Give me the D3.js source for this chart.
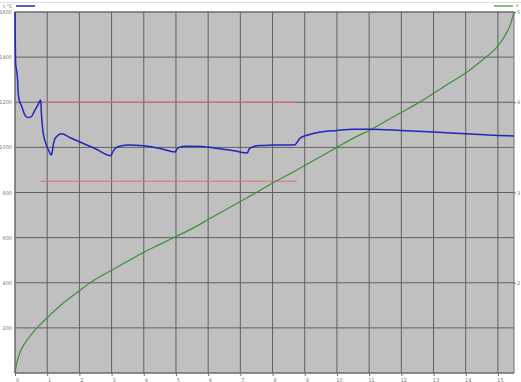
<!DOCTYPE html>
<html><head><meta charset="utf-8">
<script src="https://cdn.jsdelivr.net/npm/d3@7"></script>
<style>body{margin:0;background:#fff}svg{display:block}text{font-family:"DejaVu Sans",sans-serif}</style>
</head><body><svg id="c" width="521" height="382"></svg>
<script>
const xTicks=[0,1,2,3,4,5,6,7,8,9,10,11,12,13,14,15];
const yTicks=[0,200,400,600,800,1000,1200,1400,1600];
const yLabels=["","200","400","600","800","1000","1200","1400","1600"];
const y2Ticks=[2,3,4,5];
const tempX=[0,0.01,0.02,0.05,0.08,0.1,0.13,0.2,0.3,0.4,0.5,0.6,0.7,0.8,0.82,0.87,0.95,1.05,1.12,1.15,1.2,1.25,1.35,1.45,1.7,2,2.5,2.98,3.02,3.08,3.2,3.5,4,4.5,4.98,5.02,5.1,5.3,5.8,6.3,6.8,7.22,7.26,7.35,7.6,8,8.7,8.75,8.85,9.1,9.5,10,10.5,11,12,13,14,15,15.5];
const tempY=[1600,1450,1370,1340,1300,1240,1210,1185,1145,1132,1135,1160,1185,1210,1150,1070,1020,985,966,975,1020,1040,1055,1060,1044,1025,994,963,975,990,1003,1010,1007,995,980,990,1000,1005,1004,995,985,975,990,1000,1008,1010,1012,1020,1040,1055,1068,1075,1080,1080,1075,1068,1060,1053,1050];
const ratioX=[0,0.05,0.15,0.3,0.5,0.75,1,1.5,2,2.5,3,3.5,4,4.5,5,5.5,6,6.5,7,7.5,8,8.5,9,9.5,10,10.5,11,11.5,12,12.5,13,13.5,14,14.5,15,15.2,15.4,15.5];
const ratioY=[0,40,90,130,170,210,245,310,365,415,455,495,535,570,605,640,680,720,760,800,842,880,920,960,1000,1040,1075,1115,1155,1195,1240,1285,1330,1385,1450,1490,1550,1600];
const limitX=[0.8,8.75];
const limitHigh=[1200,1200];
const limitLow=[850,850];

const svg=d3.select("#c");
const L=15,R=514,T=12,B=373;
const x=d3.scaleLinear().domain([0,15.5]).range([L,R]);
const y=d3.scaleLinear().domain([0,1600]).range([B,T]);
const y2=d3.scaleLinear().domain([1,5]).range([B,T]);

svg.append("line").attr("x1",0).attr("x2",521).attr("y1",2.5).attr("y2",2.5).attr("stroke","#e0e0e0");
svg.append("rect").attr("x",L).attr("y",T).attr("width",R-L).attr("height",B-T).attr("fill","#c0c0c0");
const g=svg.append("g");
g.selectAll(".vg").data(xTicks).join("line").attr("x1",d=>x(d)).attr("x2",d=>x(d)).attr("y1",T).attr("y2",B).attr("stroke","#606060").attr("stroke-width",1);
g.selectAll(".hg").data(yTicks).join("line").attr("x1",L).attr("x2",R).attr("y1",d=>y(d)).attr("y2",d=>y(d)).attr("stroke","#606060").attr("stroke-width",1);
svg.append("rect").attr("x",L).attr("y",T).attr("width",R-L).attr("height",B-T).attr("fill","none").attr("stroke","#707070");

const xa=svg.append("g").attr("transform",`translate(0,${B})`).call(d3.axisBottom(x).tickValues(xTicks).tickSize(3).tickFormat(d3.format("d")));
xa.select(".domain").remove();
xa.selectAll("line").attr("stroke","#707070");
xa.selectAll("text").attr("font-size",5).attr("fill","#777").attr("dy","0.6em").attr("dx",2);
const ya=svg.append("g").attr("transform",`translate(${L},0)`).call(d3.axisLeft(y).tickValues(yTicks).tickSize(0).tickFormat((d,i)=>yLabels[i]));
ya.select(".domain").remove();
ya.selectAll("text").attr("font-size",5).attr("fill","#777").attr("x",-3);
const y2a=svg.append("g").attr("transform",`translate(${R},0)`).call(d3.axisRight(y2).tickValues(y2Ticks).tickSize(2).tickFormat(d3.format("d")));
y2a.select(".domain").remove();
y2a.selectAll("line").attr("stroke","#707070");
y2a.selectAll("text").attr("font-size",5).attr("fill","#777").attr("x",3);

const line=d3.line().x(d=>x(d[0])).y(d=>y(d[1]));
const red="#e07070";
svg.append("path").attr("d",line(d3.zip(limitX,limitHigh))).attr("stroke",red).attr("fill","none").attr("stroke-width",1);
svg.append("path").attr("d",line(d3.zip(limitX,limitLow))).attr("stroke",red).attr("fill","none").attr("stroke-width",1);
svg.append("path").attr("d",d3.line().x(d=>x(d[0])).y(d=>y(d[1])).curve(d3.curveMonotoneX)(d3.zip(ratioX,ratioY))).attr("stroke","#3a8f3a").attr("fill","none").attr("stroke-width",1.2);
svg.append("path").attr("d",d3.line().x(d=>x(d[0])).y(d=>y(d[1])).curve(d3.curveMonotoneX)(d3.zip(tempX,tempY))).attr("stroke","#2323c0").attr("fill","none").attr("stroke-width",1.5);

svg.append("text").attr("x",3).attr("y",8).attr("font-size",5).attr("fill","#777").text("t,°C");
svg.append("line").attr("x1",16).attr("x2",35).attr("y1",6).attr("y2",6).attr("stroke","#2323c0").attr("stroke-width",1.5);
svg.append("line").attr("x1",494).attr("x2",513).attr("y1",6).attr("y2",6).attr("stroke","#3a8f3a").attr("stroke-width",1.2);
svg.append("text").attr("x",516).attr("y",7).attr("font-size",5).attr("fill","#777").text("ε");
</script></body></html>
